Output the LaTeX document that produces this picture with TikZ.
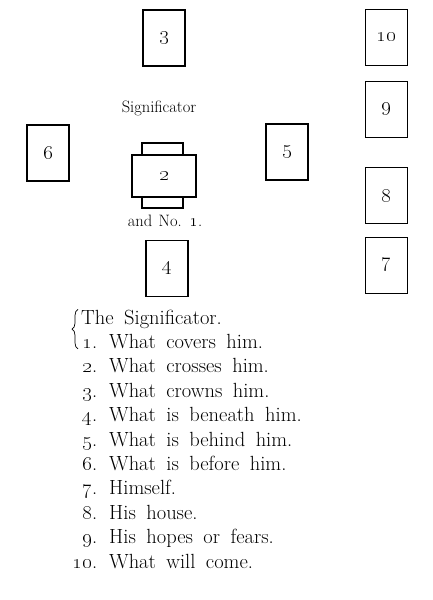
\documentclass[tikz,border=0pt]{standalone}
\usepackage{tikz}
\usetikzlibrary{positioning,decorations.pathreplacing}
\newcommand{\itemno}[1]{\makebox[27pt][r]{\oldstylenums{#1}.}\hspace{12pt}}
\newcommand{\captionfont}{\fontsize{16.5}{17}\selectfont\spaceskip 6.5pt\relax}
\newcommand{\keyfont}{\fontsize{20.5}{25}\selectfont\spaceskip 10.5pt\relax}
\tikzset{
  card/.style={draw=black, line width=1.2pt, fill=white, minimum width=42pt, minimum height=56pt, inner sep=0pt, font=\fontsize{20}{20}\selectfont},
  crosscard/.style={card, minimum width=64pt, minimum height=42pt},
  caption/.style={inner sep=0pt, font=\captionfont},
  listline/.style={anchor=base west, inner sep=0pt, font=\keyfont},
  listbrace/.style={decorate, decoration={brace, amplitude=6pt}, line width=0.7pt}
}

\begin{document}
\begin{tikzpicture}[x=1pt, y=-1pt]
  \useasboundingbox[fill=white] (0,0) rectangle (432,600);
  % the cross in the middle
  \node[card, minimum width=41pt, minimum height=65pt] (c1) at (162.5,175.5) {};
  \node[crosscard] (c2) at (164,176) {\oldstylenums{2}};
  \node[caption] (sig) at (159,108) {Significator};
  \node[caption] (andno) at (165,221) {and No. \oldstylenums{1}.};
  \node[card] (c3) at (164,38) {\oldstylenums{3}};
  \node[card] (c4) at (167,268.5) {\oldstylenums{4}};
  \node[card] (c5) at (287,152) {\oldstylenums{5}};
  \node[card] (c6) at (48,153) {\oldstylenums{6}};
  % the column on the right
  \node[card] (c7) at (386.5,265.5) {\oldstylenums{7}};
  \node[card] (c8) at (386.5,195.5) {\oldstylenums{8}};
  \node[card] (c9) at (386.5,109.5) {\oldstylenums{9}};
  \node[card] (c10) at (386.5,37.5) {\oldstylenums{10}};
  % the key
  \node[listline] (l0) at (81,324) {The Significator.};
  \node[listline] (l1) at (70,348.4) {\itemno{1}What covers him.};
  \node[listline] (l2) at (70,372.8) {\itemno{2}What crosses him.};
  \node[listline] (l3) at (70,397.2) {\itemno{3}What crowns him.};
  \node[listline] (l4) at (70,421.6) {\itemno{4}What is beneath him.};
  \node[listline] (l5) at (70,446) {\itemno{5}What is behind him.};
  \node[listline] (l6) at (70,470.4) {\itemno{6}What is before him.};
  \node[listline] (l7) at (70,494.8) {\itemno{7}Himself.};
  \node[listline] (l8) at (70,519.2) {\itemno{8}His house.};
  \node[listline] (l9) at (70,543.6) {\itemno{9}His hopes or fears.};
  \node[listline] (l10) at (70,568) {\itemno{10}What will come.};
  \draw[listbrace] ([xshift=-3pt]l0.west |- l1.south) -- ([xshift=-3pt]l0.north west);
\end{tikzpicture}
\end{document}
